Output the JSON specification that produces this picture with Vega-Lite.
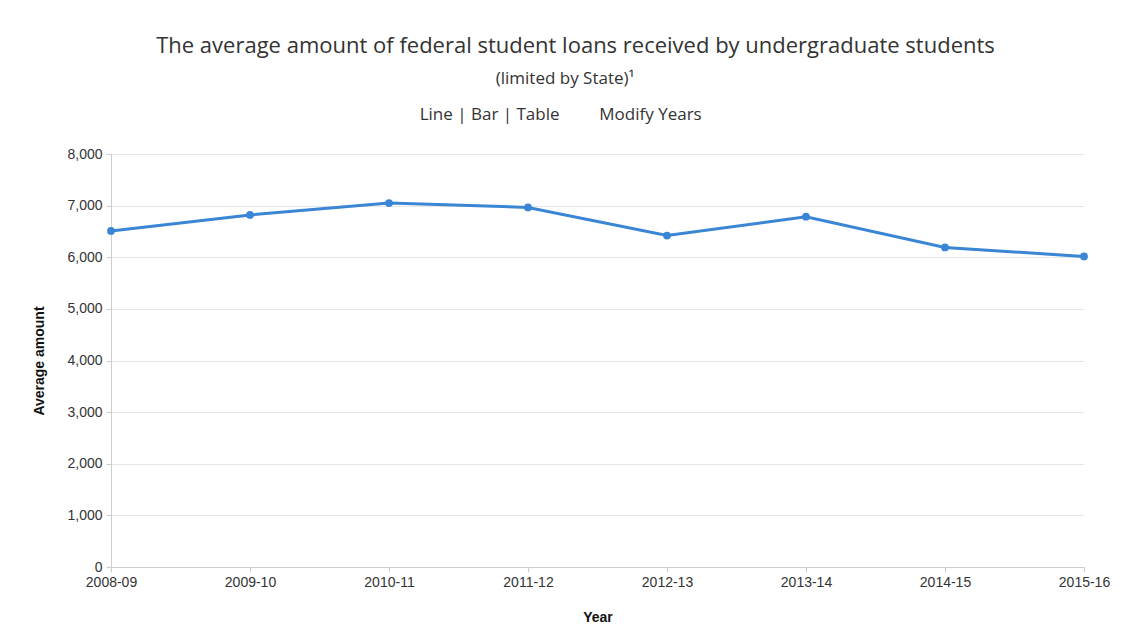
{
  "$schema": "https://vega.github.io/schema/vega-lite/v6.json",
  "width": 973,
  "height": 413,
  "autosize": {"type": "none"},
  "padding": {"left": 111, "top": 154, "right": 46, "bottom": 57},
  "background": "white",
  "title": {
    "text": "The average amount of federal student loans received by undergraduate students",
    "subtitle": ["(limited by State)¹\u00a0\u00a0\u2800", "Line | Bar | Table\u00a0\u00a0\u00a0\u00a0\u00a0\u00a0\u00a0\u00a0\u00a0Modify Years\u00a0\u00a0\u00a0\u00a0\u2800"],
    "anchor": "middle",
    "frame": "group",
    "dx": -22,
    "font": "Open Sans",
    "fontSize": 22,
    "fontWeight": "normal",
    "color": "#333333",
    "subtitleFont": "Open Sans",
    "subtitleFontSize": 17,
    "subtitleColor": "#333333",
    "subtitlePadding": 13,
    "subtitleLineHeight": 36,
    "offset": 23
  },
  "data": {
    "values": [
      {"year": "2008-09", "amount": 6510},
      {"year": "2009-10", "amount": 6820},
      {"year": "2010-11", "amount": 7050},
      {"year": "2011-12", "amount": 6965},
      {"year": "2012-13", "amount": 6420},
      {"year": "2013-14", "amount": 6785},
      {"year": "2014-15", "amount": 6190},
      {"year": "2015-16", "amount": 6015}
    ]
  },
  "config": {
    "view": {"stroke": null},
    "axis": {
      "labelFont": "Liberation Sans",
      "labelFontSize": 14,
      "labelColor": "#333333",
      "titleFont": "Liberation Sans",
      "titleFontSize": 14,
      "titleFontWeight": "bold",
      "titleColor": "#111111",
      "domainColor": "#cccccc",
      "tickColor": "#cccccc",
      "gridColor": "#e6e6e6"
    }
  },
  "mark": {"type": "line", "color": "#3a85d4", "strokeWidth": 3, "point": {"filled": true, "size": 60, "color": "#3a85d4"}},
  "encoding": {
    "x": {
      "field": "year",
      "type": "ordinal",
      "scale": {"type": "point", "padding": 0},
      "axis": {"title": "Year", "labelAngle": 0, "grid": false, "titlePadding": 21, "labelPadding": 3}
    },
    "y": {
      "field": "amount",
      "type": "quantitative",
      "scale": {"domain": [0, 8000]},
      "axis": {"title": "Average amount", "tickCount": 8, "format": ",.0f", "titlePadding": 20, "labelPadding": 4}
    }
  }
}
